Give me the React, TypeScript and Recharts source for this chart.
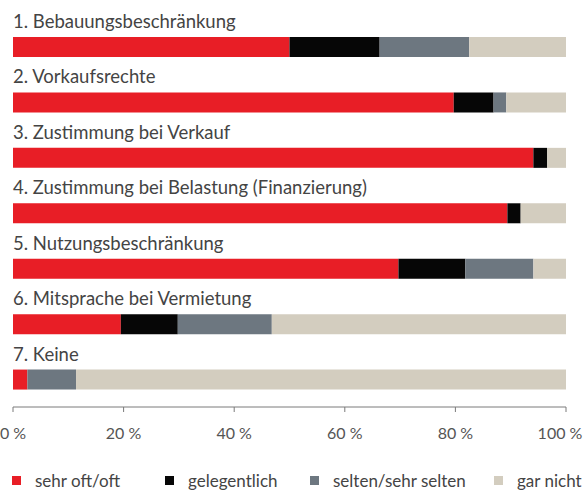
import { Bar, BarChart, LabelList, Legend, XAxis, YAxis } from "recharts";

const categories = [
  "1. Bebauungsbeschränkung",
  "2. Vorkaufsrechte",
  "3. Zustimmung bei Verkauf",
  "4. Zustimmung bei Belastung (Finanzierung)",
  "5. Nutzungsbeschränkung",
  "6. Mitsprache bei Vermietung",
  "7. Keine",
];

const sehrOft = [50, 79.7, 94.1, 89.4, 69.7, 19.5, 2.6];
const gelegentlich = [16.3, 7.2, 2.5, 2.4, 12.1, 10.3, 0];
const selten = [16.2, 2.3, 0, 0, 12.3, 17, 8.8];
const garNicht = [17.5, 10.8, 3.4, 8.2, 5.9, 53.2, 88.6];

const xTicks = [0, 20, 40, 60, 80, 100];

const series = [
  { key: "sehrOft", name: "sehr oft/oft", color: "#e81e26" },
  { key: "gelegentlich", name: "gelegentlich", color: "#060606" },
  { key: "selten", name: "selten/sehr selten", color: "#6d7780" },
  { key: "garNicht", name: "gar nicht", color: "#d3cdbf" },
];

const data = categories.map((name, i) => ({
  name,
  sehrOft: sehrOft[i],
  gelegentlich: gelegentlich[i],
  selten: selten[i],
  garNicht: garNicht[i],
}));

const FONT = "Lato, 'Open Sans', sans-serif";
const legendLeft = [12, 165, 310, 494];

// category title sits just above its bar
function CategoryLabel(props: any) {
  const { x, y, value } = props;
  return (
    <text x={Number(x)} y={Number(y) - 9} fill="#444" fontSize={18.5} fontFamily={FONT}>
      {value}
    </text>
  );
}

function PercentTick(props: any) {
  const { x, y, payload } = props;
  const last = payload.value === 100;
  return (
    <text x={x + (last ? -6 : 0)} y={y} dy="0.71em" textAnchor="middle" fill="#555" fontSize={16} fontFamily={FONT}>
      {`${payload.value} %`}
    </text>
  );
}

function ChartLegend() {
  return (
    <div style={{ position: "relative", height: 24, fontFamily: FONT, fontSize: 17, color: "#444" }}>
      {series.map((s, i) => (
        <div
          key={s.key}
          style={{ position: "absolute", left: legendLeft[i], top: 0, height: 24, display: "flex", alignItems: "center", whiteSpace: "nowrap" }}
        >
          <span style={{ width: 9, height: 9, background: s.color, display: "inline-block", marginRight: 14 }} />
          <span>{s.name}</span>
        </div>
      ))}
    </div>
  );
}

export default function App() {
  return (
    <div style={{ position: "absolute", left: 0, top: 0, width: 584, height: 493, background: "#fff" }}>
      <BarChart
        width={584}
        height={493}
        data={data}
        layout="vertical"
        margin={{ top: 19, right: 18, bottom: 1, left: 13 }}
        barSize={20}
      >
        <XAxis
          type="number"
          domain={[0, 100]}
          ticks={xTicks}
          height={61}
          stroke="#7a7a7a"
          tickSize={5}
          tickMargin={16}
          tick={<PercentTick />}
        />
        <YAxis type="category" dataKey="name" hide />
        <Legend verticalAlign="bottom" width={584} wrapperStyle={{ left: 0 }} content={<ChartLegend />} />
        {series.map((s, i) => (
          <Bar key={s.key} dataKey={s.key} name={s.name} stackId="a" fill={s.color} isAnimationActive={false}>
            {i === 0 ? <LabelList dataKey="name" content={<CategoryLabel />} /> : null}
          </Bar>
        ))}
      </BarChart>
    </div>
  );
}
